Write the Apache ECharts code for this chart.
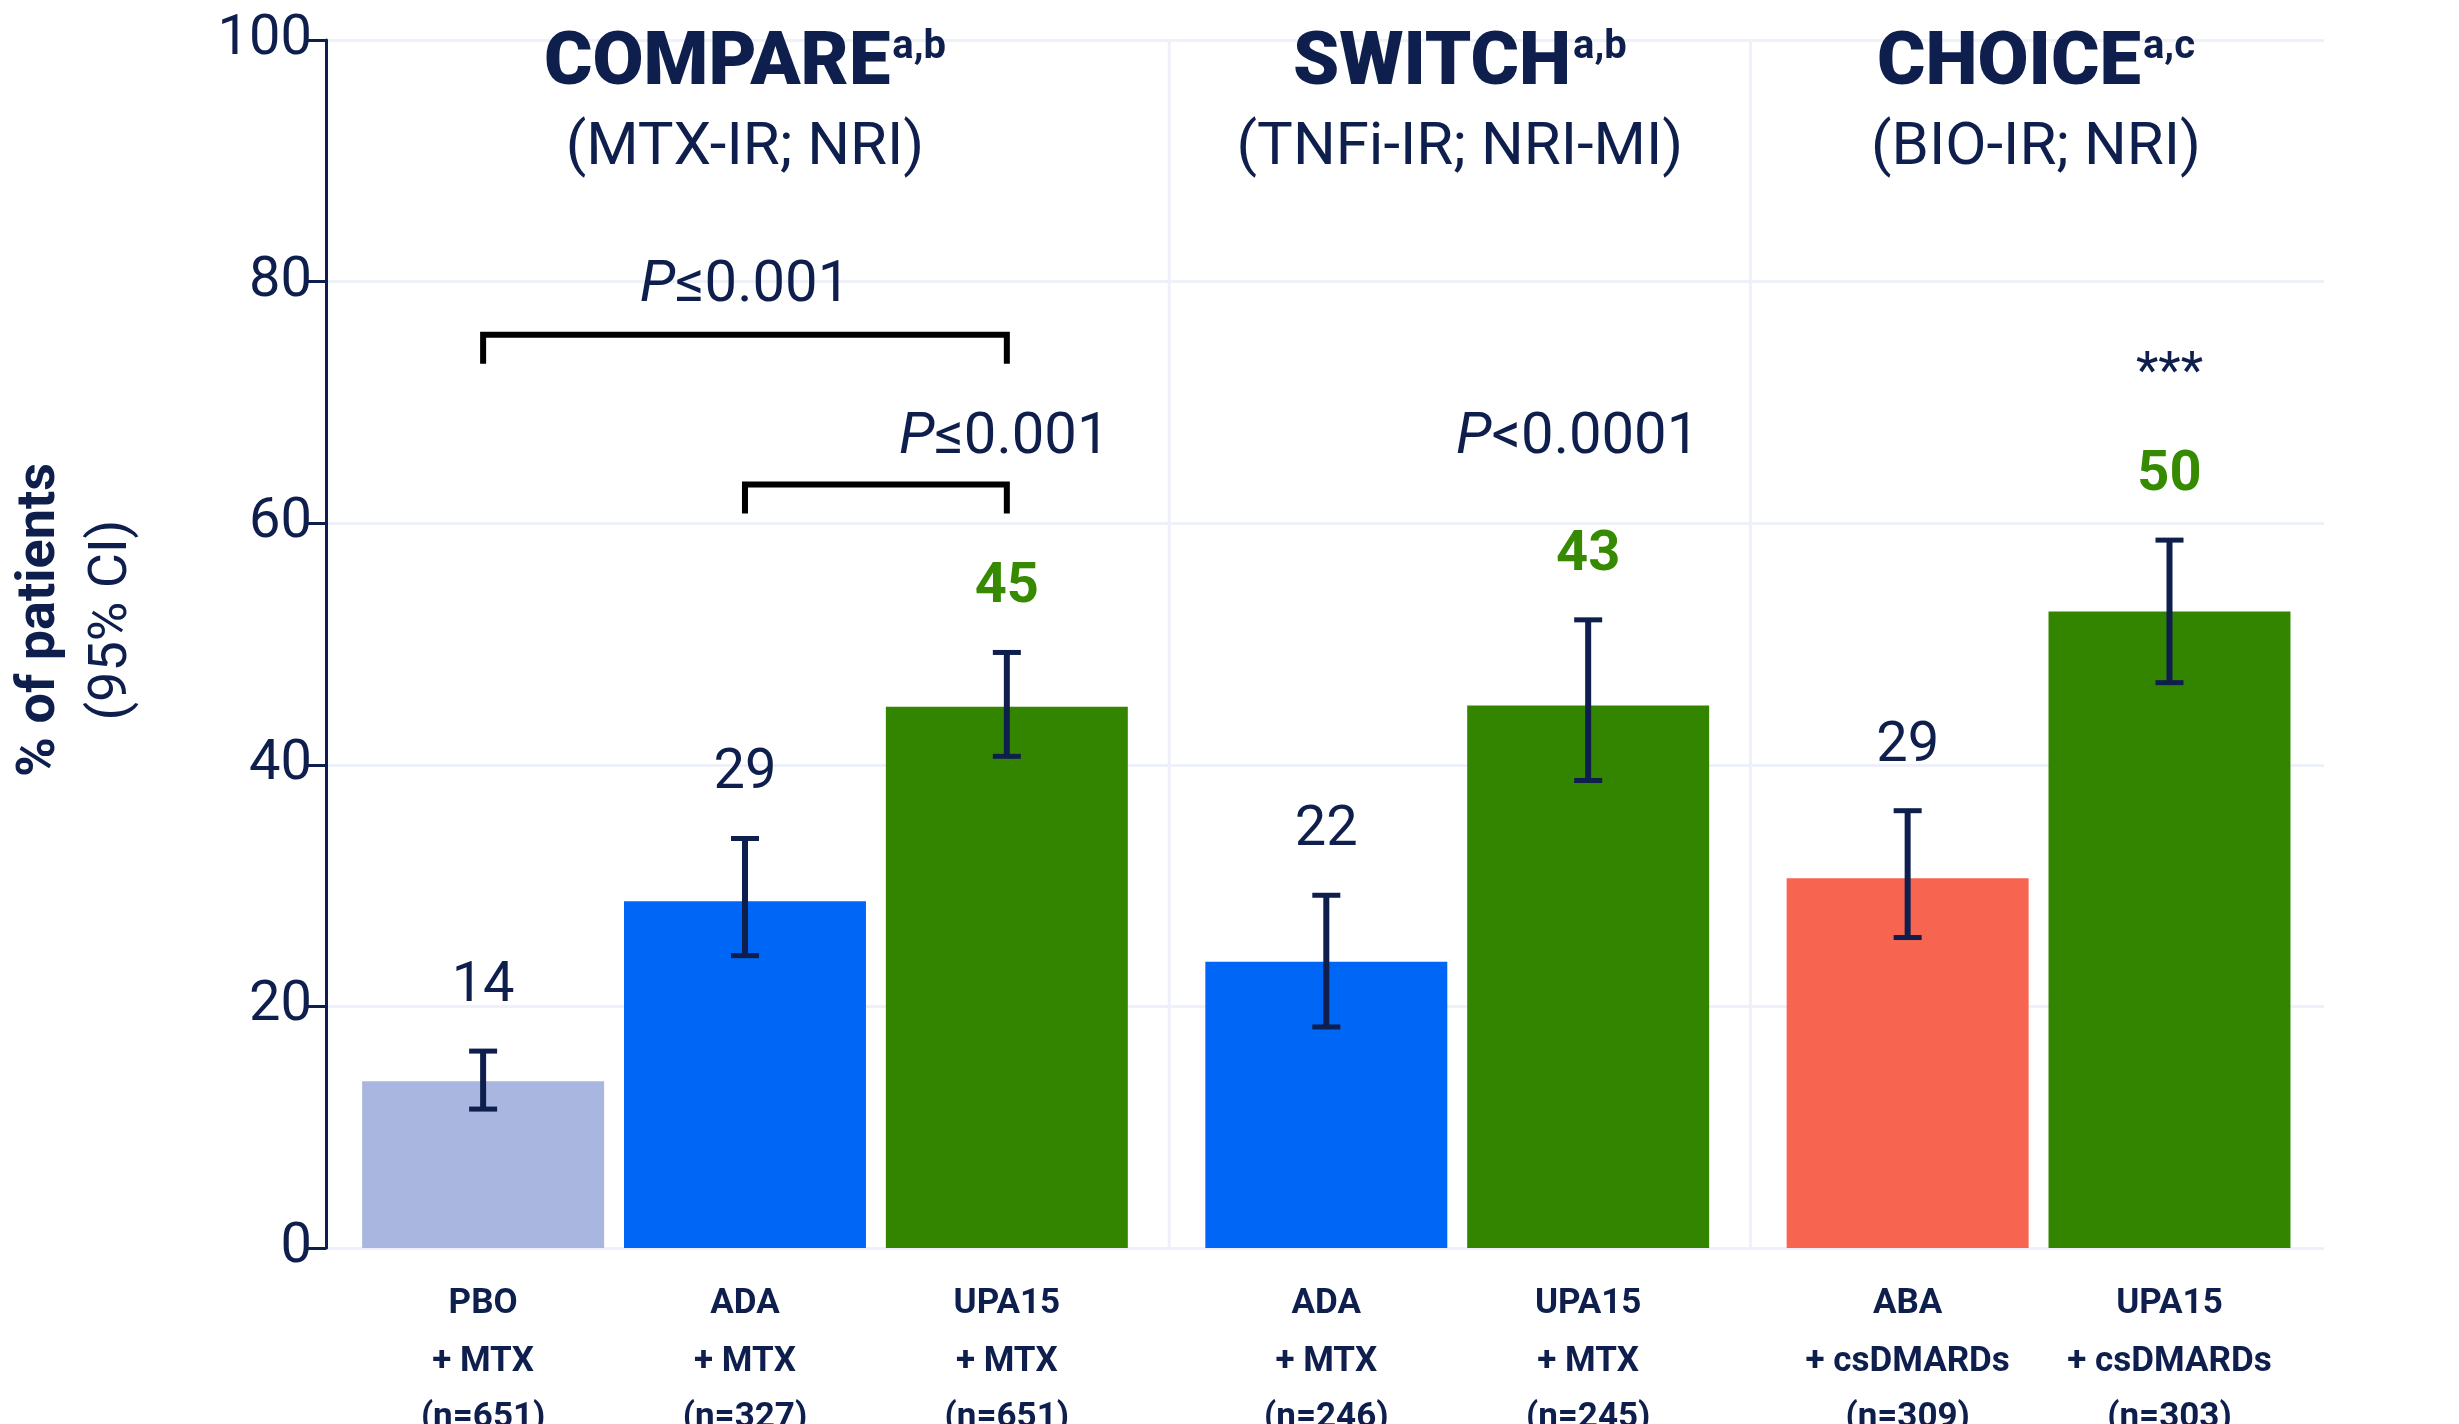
<!DOCTYPE html>
<html><head><meta charset="utf-8">
<script src="https://cdn.jsdelivr.net/npm/echarts@6/dist/echarts.min.js"></script>
<style>html,body{margin:0;background:#fff}#c{width:2459px;height:1424px}</style>
</head><body><div id="c"></div>
<script>
const groups = ['COMPARE','SWITCH','CHOICE'];
const groupSup = ['a,b','a,b','a,c'];
const groupSub = ['(MTX-IR; NRI)','(TNFi-IR; NRI-MI)','(BIO-IR; NRI)'];
const barGroup = [0,0,0,1,1,2,2];
const barDrug = ['PBO','ADA','UPA15','ADA','UPA15','ABA','UPA15'];
const barCombo = ['+ MTX','+ MTX','+ MTX','+ MTX','+ MTX','+ csDMARDs','+ csDMARDs'];
const barN = ['(n=651)','(n=327)','(n=651)','(n=246)','(n=245)','(n=309)','(n=303)'];
const barValue = [13.8,28.7,44.8,23.7,44.9,30.6,52.7];
const ciLow = [11.5,24.2,40.7,18.3,38.7,25.7,46.8];
const ciHigh = [16.3,33.9,49.3,29.2,52.0,36.2,58.6];
const barLabel = ['14','29','45','22','43','29','50'];
const barColor = ['#a8b6e0','#0066f5','#338500','#0066f5','#338500','#f76550','#338500'];
const labelGreen = [false,false,true,false,true,false,true];
const yTicks = [0,20,40,60,80,100];

const NAVY='#0e1f4d', GREEN='#368a00';
const GAP=0.22, W=0.924;
const pos = barGroup.map((g,i)=>i+0.6+GAP*g);
const divs = [3.22,5.44];
const xMax = 7.63;
const groupCenter = [pos[1], (pos[3]+pos[4])/2+0.01, (pos[5]+pos[6])/2-0.01];

const chart = echarts.init(document.getElementById('c'));
const FF='Roboto';
function txt(x,y,text,o){return {type:'text',style:Object.assign({x,y,text,fill:NAVY,font:'400 56px Roboto',align:'center',verticalAlign:'middle'},o||{})};}

chart.setOption({
  animation:false,
  grid:{left:326,right:135,top:40,bottom:176},
  xAxis:{type:'value',min:0,max:xMax,show:false},
  yAxis:{type:'value',min:0,max:100,interval:20,
    axisLine:{show:true,lineStyle:{color:NAVY,width:3}},
    axisTick:{show:true,length:20,lineStyle:{color:NAVY,width:3}},
    axisLabel:{color:NAVY,fontSize:56,fontFamily:FF,margin:14},
    splitLine:{show:true,lineStyle:{color:'#eef0fa',width:3}}},
  graphic:[
    {type:'text',left:8,top:'center',rotation:Math.PI/2,x:10,y:0,
      style:{text:'% of patients',font:'700 54px Roboto',fill:NAVY},position:[8,820],origin:[0,0]},
  ],
  series:[
    {type:'custom',clip:false,z:1,data:divs.map(d=>[d]),
      renderItem:(p,api)=>{const a=api.coord([api.value(0),0]),b=api.coord([api.value(0),100]);
        return {type:'line',shape:{x1:a[0],y1:a[1],x2:b[0],y2:b[1]},style:{stroke:'#eef0fa',lineWidth:3}};}},
    {type:'custom',clip:false,z:3,data:barValue.map((v,i)=>[pos[i],v,ciLow[i],ciHigh[i],i]),
      renderItem:(p,api)=>{
        const i=api.value(4),x=api.value(0),v=api.value(1);
        const s=api.size([W,0])[0];
        const top=api.coord([x,v]),base=api.coord([x,0]);
        const lo=api.coord([x,api.value(2)]),hi=api.coord([x,api.value(3)]);
        const cx=top[0];
        const ch=[
          {type:'rect',shape:{x:cx-s/2,y:top[1],width:s,height:base[1]-top[1]},style:{fill:barColor[i]}},
          {type:'line',shape:{x1:cx,y1:lo[1],x2:cx,y2:hi[1]},style:{stroke:NAVY,lineWidth:6}},
          {type:'line',shape:{x1:cx-14,y1:lo[1],x2:cx+14,y2:lo[1]},style:{stroke:NAVY,lineWidth:5}},
          {type:'line',shape:{x1:cx-14,y1:hi[1],x2:cx+14,y2:hi[1]},style:{stroke:NAVY,lineWidth:5}},
          txt(cx,hi[1]-64,barLabel[i],labelGreen[i]?{fill:GREEN,font:'700 56px Roboto'}:{}),
          txt(cx,base[1]+56,barDrug[i],{font:'700 35px Roboto'}),
          txt(cx,base[1]+114,barCombo[i],{font:'700 35px Roboto'}),
          txt(cx,base[1]+170,barN[i],{font:'700 35px Roboto'})
        ];
        return {type:'group',children:ch};
      }},
    {type:'custom',clip:false,z:4,data:groups.map((g,i)=>[groupCenter[i],i]),
      renderItem:(p,api)=>{const i=api.value(1);const c=api.coord([api.value(0),97.9]);const c2=api.coord([api.value(0),91]);
        return {type:'group',children:[
          {type:'text',style:{x:c[0],y:c[1],text:'{t|'+groups[i]+'}{s|'+groupSup[i]+'}',align:'center',verticalAlign:'middle',
            rich:{t:{font:'900 74px Roboto',fill:NAVY},s:{font:'700 40px Roboto',fill:NAVY,verticalAlign:'top',padding:[0,0,30,2]}}}},
          txt(c2[0],c2[1],groupSub[i],{font:'400 60px Roboto'})]};}},
    {type:'custom',clip:false,z:4,data:[[0]],
      renderItem:(p,api)=>{
        const br=(a,b,y,yb)=>{const p1=api.coord([a,yb]),p2=api.coord([a,y]),p3=api.coord([b,y]),p4=api.coord([b,yb]);
          return {type:'polyline',shape:{points:[p1,p2,p3,p4]},style:{stroke:'#000',lineWidth:6,fill:null}};};
        const pv=(x,y,rest)=>{const c=api.coord([x,y]);return {type:'text',style:{x:c[0],y:c[1],text:'{i|P}{n|'+rest+'}',align:'center',verticalAlign:'middle',
          rich:{i:{font:'italic 400 58px Roboto',fill:NAVY},n:{font:'400 58px Roboto',fill:NAVY}}}};};
        const st=api.coord([pos[6],72.3]);
        return {type:'group',children:[
          br(pos[0],pos[2],75.6,73.2), br(pos[1],pos[2],63.2,60.8),
          pv((pos[0]+pos[2])/2,79.6,'≤0.001'), pv(pos[1]+0.99,67,'≤0.001'),
          pv(pos[4]-0.04,67,'<0.0001'),
          txt(st[0],st[1],'***',{font:'400 52px Roboto'})
        ]};
      }}
  ]
});
chart.setOption({graphic:[
  {type:'text',rotation:Math.PI/2,x:40,y:620,style:{text:'% of patients',font:'700 54px Roboto',fill:NAVY,align:'center',verticalAlign:'middle'}},
  {type:'text',rotation:Math.PI/2,x:112,y:620,style:{text:'(95% CI)',font:'400 54px Roboto',fill:NAVY,align:'center',verticalAlign:'middle'}}
]},{replaceMerge:['graphic']});
</script></body></html>
